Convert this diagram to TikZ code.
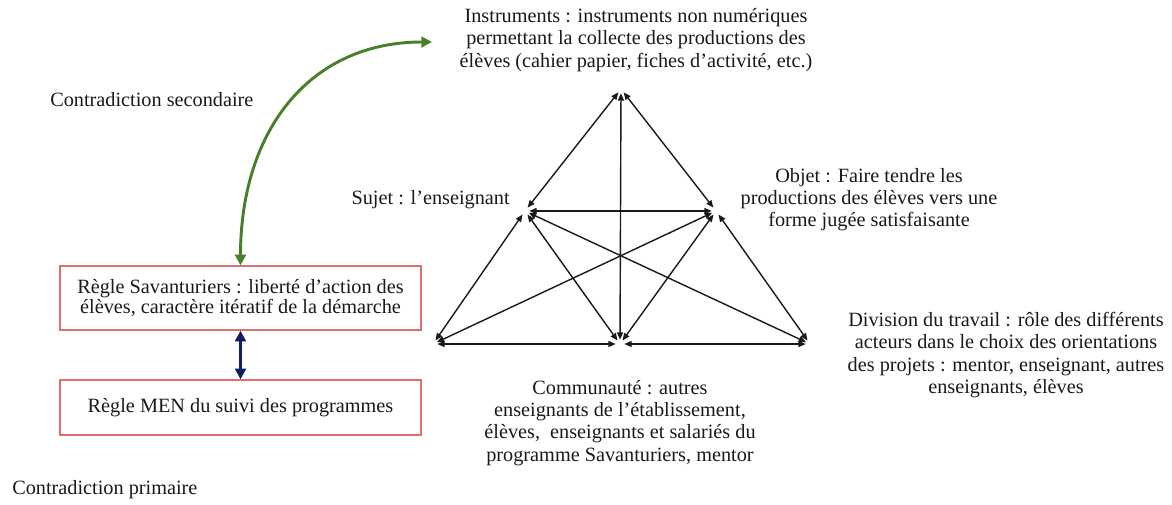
\documentclass[tikz,border=0pt]{standalone}
\usepackage{fontspec}
\setmainfont{Liberation Serif}
\usetikzlibrary{arrows.meta}
\definecolor{arrgreen}{RGB}{70,128,40}
\definecolor{navyblue}{RGB}{15,30,95}
\definecolor{boxred}{RGB}{225,110,110}
\begin{document}
\begin{tikzpicture}[x=0.75pt,y=-0.75pt,
  lbl/.style={align=center,font=\fontsize{15.2}{16.6}\selectfont,inner sep=0pt,text=black!90},
  vtx/.style={circle,inner sep=0pt,minimum size=6pt},
  tri/.style={{Triangle[length=5.5pt,width=4.5pt]}-{Triangle[length=5.5pt,width=4.5pt]},line width=1.05pt,black!90},
  rulebox/.style={draw=boxred,line width=1pt,minimum width=270.75pt,align=center,inner sep=0pt,
    font=\fontsize{15.2}{15}\selectfont,text=black!90},
  bigarrow/.style={{Triangle[length=8pt,width=8pt]}-{Triangle[length=8pt,width=8pt]},line width=2.2pt}
]
\useasboundingbox (0,0) rectangle (1172,504);

% text labels
\node[lbl] (instr) at (636,40) {Instruments : instruments non numériques\\permettant la collecte des productions des\\élèves (cahier papier, fiches d’activité, etc.)};
\node[lbl,anchor=west] (csec) at (50,100) {Contradiction secondaire};
\node[lbl,anchor=east] (sujet) at (510,200) {Sujet : l’enseignant};
\node[lbl] (objet) at (869,200) {Objet : Faire tendre les\\productions des élèves vers une\\forme jugée satisfaisante};
\node[lbl] (div) at (1006,355) {Division du travail : rôle des différents\\acteurs dans le choix des orientations\\des projets : mentor, enseignant, autres\\enseignants, élèves};
\node[lbl] (comm) at (620,423) {Communauté : autres\\enseignants de l’établissement,\\élèves,\ \ enseignants et salariés du\\programme Savanturiers, mentor};
\node[lbl,anchor=west] (cprim) at (12,490) {Contradiction primaire};

% rule boxes
\node[rulebox,minimum height=48pt] (sav) at (240.5,298) {Règle Savanturiers : liberté d’action des\\élèves, caractère itératif de la démarche};
\node[rulebox,minimum height=41.25pt] (men) at (240.5,407.5) {Règle MEN du suivi des programmes};

% triangle vertices
\node[vtx] (T) at (621,89) {};
\node[vtx] (S) at (525,211) {};
\node[vtx] (O) at (716,211) {};
\node[vtx] (R) at (433,344) {};
\node[vtx] (C) at (620,344) {};
\node[vtx] (D) at (810,344) {};

\draw[tri] (S) -- (T);
\draw[tri] (O) -- (T);
\draw[tri] (C) -- (T);
\draw[tri] (S) -- (O);
\draw[tri] (S) -- (R);
\draw[tri] (S) -- (C);
\draw[tri] (S) -- (D);
\draw[tri] (O) -- (R);
\draw[tri] (O) -- (C);
\draw[tri] (O) -- (D);
\draw[tri] (R) -- (C);
\draw[tri] (C) -- (D);

% contradiction arrows
\coordinate (gEnd) at (432,42);
\draw[bigarrow,arrgreen] (sav.north) .. controls (240.5,130) and (310,42) .. (gEnd);
\draw[bigarrow,navyblue] (sav.south) -- (men.north);
\end{tikzpicture}
\end{document}
